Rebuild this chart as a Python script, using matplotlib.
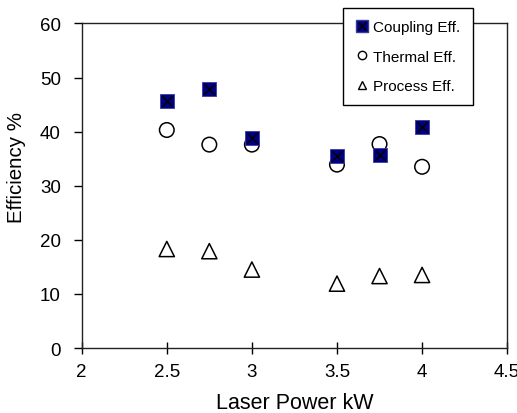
import matplotlib
matplotlib.use("Agg")
import matplotlib.pyplot as plt
from matplotlib.legend_handler import HandlerTuple

plt.rcParams['font.family'] = ['Liberation Sans', 'DejaVu Sans']

# data
power = [2.5, 2.75, 3.0, 3.5, 3.75, 4.0]
coupling = [45.7, 47.8, 38.9, 35.5, 35.7, 40.8]
thermal = [40.3, 37.6, 37.6, 33.9, 37.7, 33.5]
process = [18.3, 17.9, 14.5, 11.9, 13.3, 13.5]

xticks = [2, 2.5, 3, 3.5, 4, 4.5]
xticklabels = ['2', '2.5', '3', '3.5', '4', '4.5']
yticks = [0, 10, 20, 30, 40, 50, 60]

fig = plt.figure(figsize=(5.17, 4.14), dpi=100)
ax = fig.add_axes([0.158, 0.157, 0.823, 0.784])

ax.scatter(power, coupling, marker='s', s=90, color='#000080',
           edgecolors='#3a3aa0', linewidths=0.6, zorder=3)
ax.scatter(power, coupling, marker='x', s=55, color='black',
           linewidths=1.0, zorder=4)
ax.scatter(power, thermal, marker='o', s=110, facecolors='none',
           edgecolors='black', linewidths=1.1, zorder=2)
ax.scatter(power, process, marker='^', s=120, facecolors='none',
           edgecolors='black', linewidths=1.1, zorder=2)

ax.set_xlim(2, 4.5)
ax.set_ylim(0, 60)
ax.set_xticks(xticks)
ax.set_xticklabels(xticklabels)
ax.set_yticks(yticks)
ax.tick_params(axis='x', direction='inout', length=9, width=1, labelsize=13.5, pad=6)
ax.tick_params(axis='y', direction='out', length=6, width=1, labelsize=13.5, pad=9)
for sp in ax.spines.values():
    sp.set_linewidth(1.0)
    sp.set_color('#222222')

ax.set_xlabel('Laser Power kW', fontsize=15.5, labelpad=9)
ax.set_ylabel('Efficiency %', fontsize=14.8)
ax.yaxis.set_label_coords(-0.132, 0.56)

# small legend markers
h_c = (plt.Line2D([], [], marker='s', ls='none', ms=8, mfc='#000080', mec='#3a3aa0'),
       plt.Line2D([], [], marker='x', ls='none', ms=6, mec='black', mew=1.0))
h_t = plt.Line2D([], [], marker='o', ls='none', ms=6, mfc='none', mec='black', mew=1.0)
h_p = plt.Line2D([], [], marker='^', ls='none', ms=6, mfc='none', mec='black', mew=1.0)

leg = fig.legend([h_c, h_t, h_p], ['Coupling Eff.', 'Thermal Eff.', 'Process Eff.'],
                 handler_map={tuple: HandlerTuple(ndivide=1, pad=0)},
                 loc='upper left', bbox_to_anchor=(0.663, 0.978),
                 fontsize=11, frameon=True, fancybox=False, framealpha=1,
                 edgecolor='black', labelspacing=1.0, handlelength=0.9,
                 handletextpad=0.3, borderpad=0.8, borderaxespad=0)
leg.get_frame().set_linewidth(1.0)
leg.set_zorder(10)

fig.savefig('out.png', dpi=100)
